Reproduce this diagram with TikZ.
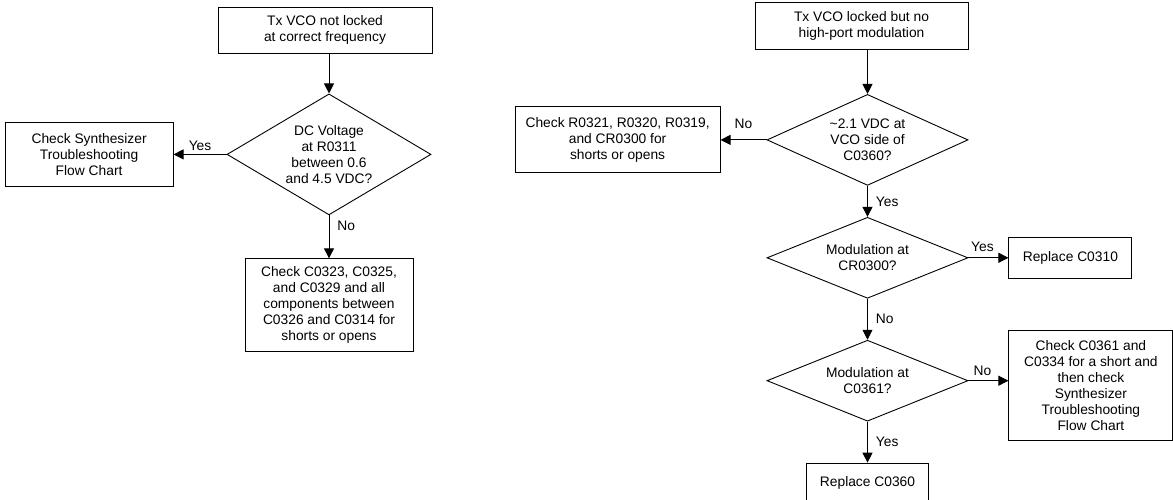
\documentclass[tikz,border=0pt]{standalone}
\usepackage{fontspec}
\setmainfont{Liberation Sans}
\usepackage{tikz}
\usetikzlibrary{shapes.geometric, arrows.meta, positioning}

\begin{document}
\begin{tikzpicture}[
  x=1pt, y=-1pt,
  font=\fontsize{13.8}{16}\selectfont,
  box/.style={rectangle, draw=black, line width=0.9pt,
    inner sep=0pt, align=center},
  query/.style={diamond, draw=black, line width=0.9pt,
    inner sep=0pt, aspect=2, align=center},
  arr/.style={-{Triangle[length=10pt, width=10pt]}, line width=0.9pt},
  hlbl/.style={above, inner sep=3pt},
  vlbl/.style={right, inner sep=3pt, xshift=5pt}
]
  \useasboundingbox (0,0) rectangle (1173,500);

  % Left: VCO not locked
  \node[box, minimum width=214pt, minimum height=46pt] (b1) at (325,30)
    {Tx VCO not locked\\at correct frequency};
  \node[query, minimum width=204pt, minimum height=121pt,
    below=40pt of b1, xshift=4pt] (d1)
    {DC Voltage\\at R0311\\between 0.6\\and 4.5 VDC?};
  \node[box, minimum width=168pt, minimum height=64pt, left=53pt of d1] (b2)
    {Check Synthesizer\\Troubleshooting\\Flow Chart};
  \node[box, minimum width=168pt, minimum height=93pt, below=43pt of d1] (b3)
    {Check C0323, C0325,\\and C0329 and all\\components between\\C0326 and C0314 for\\shorts or opens};
  \draw[arr] (b1.south -| d1.north) -- (d1.north);
  \draw[arr] (d1.west) -- node[hlbl]{Yes} (b2.east |- d1.west);
  \draw[arr] (d1.south) -- node[vlbl, pos=0.25]{No} (b3.north);

  % Right: VCO locked, no modulation
  \node[box, minimum width=213pt, minimum height=47pt] (t1) at (861.5,26)
    {Tx VCO locked but no\\high-port modulation};
  \node[query, minimum width=201pt, minimum height=91pt,
    below=44pt of t1, xshift=6pt] (d2)
    {\textasciitilde2.1 VDC at\\VCO side of\\C0360?};
  \node[box, minimum width=205pt, minimum height=66pt, left=46pt of d2] (r1)
    {Check R0321, R0320, R0319,\\and CR0300 for\\shorts or opens};
  \node[query, minimum width=201pt, minimum height=81pt, below=31pt of d2] (d3)
    {Modulation at\\CR0300?};
  \node[box, minimum width=123pt, minimum height=41pt, right=40pt of d3] (r2)
    {Replace C0310};
  \node[query, minimum width=201pt, minimum height=81pt, below=41pt of d3] (d4)
    {Modulation at\\C0361?};
  \node[box, minimum width=164pt, minimum height=110pt,
    right=40pt of d4, yshift=-5pt] (r3)
    {Check C0361 and\\C0334 for a short and\\then check\\Synthesizer\\Troubleshooting\\Flow Chart};
  \node[box, minimum width=122pt, minimum height=40pt, below=41pt of d4] (r4)
    {Replace C0360};

  \draw[arr] (t1.south -| d2.north) -- (d2.north);
  \draw[arr] (d2.west) -- node[hlbl, yshift=8pt]{No} (r1.east |- d2.west);
  \draw[arr] (d2.south) -- node[vlbl]{Yes} (d3.north);
  \draw[arr] (d3.east) -- node[hlbl, pos=0.35, yshift=3pt]{Yes} (r2.west);
  \draw[arr] (d3.south) -- node[vlbl]{No} (d4.north);
  \draw[arr] (d4.east) -- node[hlbl, pos=0.35, yshift=2pt]{No} (r3.west |- d4.east);
  \draw[arr] (d4.south) -- node[vlbl]{Yes} (r4.north);
\end{tikzpicture}
\end{document}
